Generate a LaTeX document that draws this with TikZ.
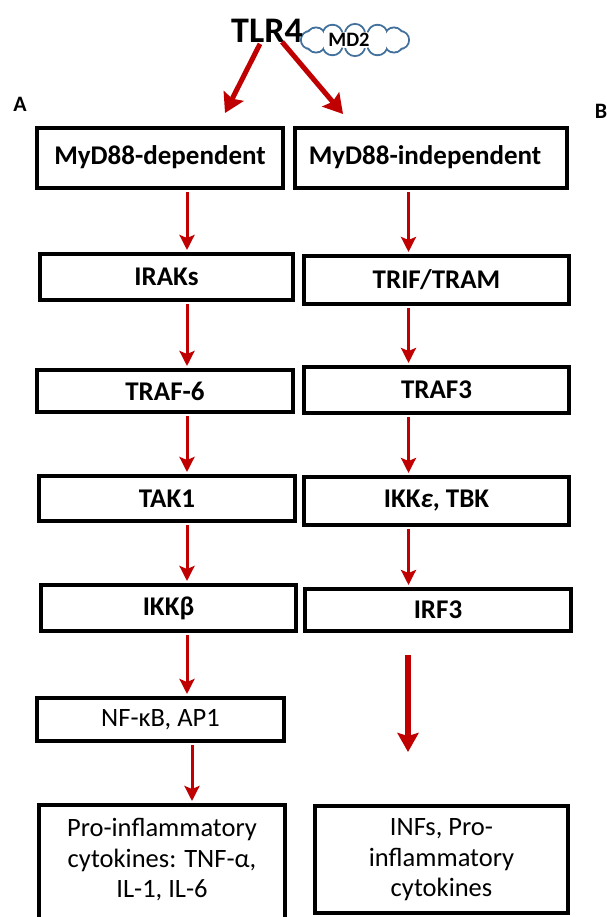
\documentclass[tikz,border=0pt]{standalone}
\usepackage{fontspec}
\setmainfont{Carlito}
\usetikzlibrary{arrows.meta}
\definecolor{arrred}{RGB}{192,0,0}
\definecolor{cloudblue}{RGB}{65,113,156}
\begin{document}
\begin{tikzpicture}[x=1pt,y=-1pt,
  box/.style={draw=black, line width=4pt, fill=white, inner sep=0pt,
    font=\fontsize{27}{30}\selectfont\bfseries},
  rbox/.style={box, font=\fontsize{26.5}{30}\selectfont},
  txt/.style={inner sep=0pt, align=center, font=\fontsize{26.5}{30.5}\selectfont},
  arr/.style={draw=arrred, line width=3pt, shorten <=2pt, shorten >=2pt,
    -{Stealth[length=15pt,width=15pt,inset=3pt]}},
  bigarr/.style={draw=arrred, line width=5pt,
    -{Stealth[length=19pt,width=22pt,inset=3pt]}},
  freearr/.style={draw=arrred, line width=6pt,
    -{Stealth[length=19pt,width=21pt,inset=3pt]}},
  lettr/.style={inner sep=0pt, font=\fontsize{22}{24}\selectfont\bfseries}
]
\useasboundingbox (0,0) rectangle (606,917);
\fill[white] (0,0) rectangle (606,917);

% MD2 cloud
\foreach \a/\r in {0/9,30/9.5,60/10,90/10,120/10,150/9.5,180/9,210/9.5,240/10,270/10,300/10,330/9.5}
  \draw[cloudblue, line width=2pt] ({355+45*cos(\a)},{40+6*sin(\a)}) circle (\r pt);
\foreach \a/\r in {0/9,30/9.5,60/10,90/10,120/10,150/9.5,180/9,210/9.5,240/10,270/10,300/10,330/9.5}
  \fill[white] ({355+45*cos(\a)},{40+6*sin(\a)}) circle (\r pt - 1pt);
\fill[white] (355,40) ellipse (46pt and 8pt);
\node[inner sep=0pt, font=\fontsize{20.5}{21}\selectfont\bfseries] (md2) at (349,40) {MD2};
\node[inner sep=2pt, font=\fontsize{36}{40}\selectfont\bfseries] (tlr4) at (267,31) {TLR4};

\node[lettr] (la) at (20,104) {A};
\node[lettr] (lb) at (601,111) {B};

% left column
\node[box, minimum width=246pt, minimum height=60pt] (L1) at (160,158) {\raisebox{5pt}{MyD88-dependent}};
\node[box, minimum width=253pt, minimum height=46pt] (L2) at (166.5,277) {IRAKs};
\node[box, minimum width=256pt, minimum height=42pt] (L3) at (165,391) {TRAF-6};
\node[box, minimum width=256pt, minimum height=45pt] (L4) at (167,498.5) {TAK1};
\node[box, minimum width=255pt, minimum height=46pt] (L5) at (168.5,608) {IKKβ};
\node[rbox, minimum width=247pt, minimum height=43pt] (L6) at (160.5,719.5) {NF-κB, AP1};
\node[box, minimum width=246pt, minimum height=130pt] (L7) at (162,870) {};
\node[txt] (L7t) at (162,860) {Pro-inflammatory\\cytokines: TNF-α,\\IL-1, IL-6};

% right column
\node[box, minimum width=272pt, minimum height=60pt] (R1) at (431,158) {\raisebox{5pt}{MyD88-independent\hspace{12pt}}};
\node[box, minimum width=265pt, minimum height=48pt] (R2) at (436.5,280) {TRIF/TRAM};
\node[box, minimum width=265pt, minimum height=46pt] (R3) at (436.5,390) {TRAF3};
\node[box, minimum width=265pt, minimum height=48pt] (R4) at (436.5,501) {IKK\textit{ε}, TBK};
\node[box, minimum width=266pt, minimum height=42pt] (R5) at (438,610) {IRF3};
\node[rbox, minimum width=253pt, minimum height=107pt] (R7) at (441.5,859.5) {};
\node[txt] (R7t) at (441.5,860) {INFs, Pro-\\inflammatory\\cytokines};

% arrow columns
\coordinate (lx) at (187,0);
\coordinate (lx2) at (192,0);
\coordinate (rx) at (408.5,0);

% TLR4 arrows
\draw[bigarr] ([xshift=-7pt,yshift=1pt]tlr4.south) -- ([xshift=65pt,yshift=13pt]L1.north);
\draw[bigarr] ([xshift=15pt,yshift=3pt]tlr4.south) -- ([xshift=-88pt,yshift=12pt]R1.north);

% left chain
\draw[arr] (L1.south -| lx) -- (L2.north -| lx);
\draw[arr] (L2.south -| lx) -- (L3.north -| lx);
\draw[arr] (L3.south -| lx) -- (L4.north -| lx);
\draw[arr] (L4.south -| lx) -- (L5.north -| lx);
\draw[arr] (L5.south -| lx) -- (L6.north -| lx);
\draw[arr] (L6.south -| lx2) -- (L7.north -| lx2);

% right chain
\draw[arr] (R1.south -| rx) -- (R2.north -| rx);
\draw[arr] (R2.south -| rx) -- (R3.north -| rx);
\draw[arr] (R3.south -| rx) -- (R4.north -| rx);
\draw[arr] (R4.south -| rx) -- (R5.north -| rx);

\coordinate (fs) at (408,655);
\coordinate (fe) at (408,752);
\draw[freearr] (fs) -- (fe);
\end{tikzpicture}
\end{document}
